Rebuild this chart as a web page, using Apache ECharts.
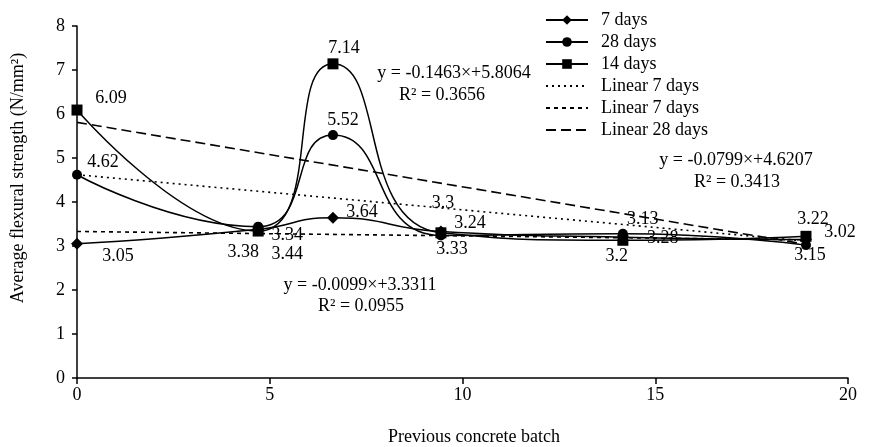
<!DOCTYPE html>
<html>
<head>
<meta charset="utf-8">
<script src="https://cdn.jsdelivr.net/npm/echarts@6/dist/echarts.min.js"></script>
<style>html,body{margin:0;padding:0;background:#fff}#c{width:878px;height:447px}</style>
</head>
<body>
<div id="c"></div>
<script>
// ---- data ----
const batchX   = [0, 4.7, 6.64, 9.44, 14.16, 18.91];
const days7    = [3.05, 3.38, 3.64, 3.33, 3.2, 3.15];
const days28   = [4.62, 3.44, 5.52, 3.24, 3.28, 3.02];
const days14   = [6.09, 3.34, 7.14, 3.3, 3.13, 3.22];
const trendX   = [0, 18.91];
const trend7   = [3.33, 3.14];   // y = -0.0099x+3.3311
const trend28  = [4.62, 3.11];   // y = -0.0799x+4.6207
const trend14  = [5.81, 3.04];   // y = -0.1463x+5.8064
const xTicks   = [0, 5, 10, 15, 20];
const yTicks   = [0, 1, 2, 3, 4, 5, 6, 7, 8];
const legendNames = ['7 days', '28 days', '14 days', 'Linear 7 days', 'Linear 7 days ', 'Linear 28 days'];

// ---- label offsets (style only) ----
const off7  = [[41,12],[-15,23],[29,-6],[11,18],[-6,19],[4,16]];
const off28 = [[26,-12],[29,28],[10,-15],[29,-12],[40,5],[34,-13]];
const off14 = [[34,-12],[29,4],[11,-16],[2,-30],[20,-21],[7,-17]];

const FONT = 'Liberation Serif, Times New Roman, serif';
const fs = 18;

function pts(xs, ys, offs) {
  return xs.map((x, i) => {
    const d = { value: [x, ys[i]] };
    if (offs) d.label = { offset: offs[i] };
    return d;
  });
}
const lbl = { show: true, position: 'inside', color: '#000', fontFamily: FONT, fontSize: fs,
  formatter: p => String(p.value[1]) };

function dataSeries(name, ys, offs, symbol, size) {
  return {
    name, type: 'line', data: pts(batchX, ys, offs), smooth: 0.55,
    symbol, symbolSize: size, showSymbol: true,
    itemStyle: { color: '#000' }, lineStyle: { color: '#000', width: 1.5 },
    label: lbl, z: 3
  };
}
function trendSeries(name, ys, dash) {
  return {
    name, type: 'line', data: pts(trendX, ys), symbol: 'none', showSymbol: false,
    lineStyle: { color: '#000', width: 1.6, type: dash }, itemStyle: { color: '#000' }, z: 2
  };
}
function txt(s, x, y) {
  return { type: 'text', x, y, style: { text: s, font: fs + 'px ' + FONT, fill: '#000', align: 'center', verticalAlign: 'middle' } };
}

const chart = echarts.init(document.getElementById('c'));
chart.setOption({
  animation: false,
  backgroundColor: '#fff',
  textStyle: { fontFamily: FONT },
  grid: { left: 77, right: 30, top: 26, bottom: 69 },
  xAxis: {
    type: 'value', min: xTicks[0], max: xTicks[xTicks.length - 1], interval: 5,
    axisLine: { lineStyle: { color: '#000', width: 1.5 } },
    axisTick: { show: true, length: 6, lineStyle: { color: '#000', width: 1.5 } },
    axisLabel: { color: '#000', fontFamily: FONT, fontSize: fs, margin: 8 },
    splitLine: { show: false }
  },
  yAxis: {
    type: 'value', min: yTicks[0], max: yTicks[yTicks.length - 1], interval: 1,
    axisLine: { show: true, lineStyle: { color: '#000', width: 1.5 } },
    axisTick: { show: true, length: 5, lineStyle: { color: '#000', width: 1.5 } },
    axisLabel: { color: '#000', fontFamily: FONT, fontSize: fs, margin: 12 },
    splitLine: { show: false }
  },
  legend: {
    orient: 'vertical', left: 540, top: 6, itemWidth: 42, itemHeight: 12, itemGap: 4,
    textStyle: { color: '#000', fontFamily: FONT, fontSize: fs, padding: [0, 0, 0, 8] },
    data: legendNames.map((n, i) => i < 3 ? n : { name: n, itemStyle: { color: 'rgba(0,0,0,0)', borderWidth: 0, opacity: 0 } })
  },
  series: [
    dataSeries(legendNames[0], days7, off7, 'diamond', 12),
    dataSeries(legendNames[1], days28, off28, 'circle', 10),
    dataSeries(legendNames[2], days14, off14, 'rect', 11),
    trendSeries(legendNames[3], trend28, [2, 4]),
    trendSeries(legendNames[4], trend7, [4, 4]),
    trendSeries(legendNames[5], trend14, [10, 5])
  ],
  graphic: [
    txt('y = -0.1463×+5.8064', 454, 73),
    txt('R² = 0.3656', 442, 95),
    txt('y = -0.0099×+3.3311', 360, 285),
    txt('R² = 0.0955', 361, 306),
    txt('y = -0.0799×+4.6207', 736, 160),
    txt('R² = 0.3413', 737, 182),
    txt('Previous concrete batch', 474, 437),
    Object.assign(txt('Average flexural strength (N/mm²)', 18, 178), { rotation: Math.PI / 2 })
  ]
});
</script>
</body>
</html>
